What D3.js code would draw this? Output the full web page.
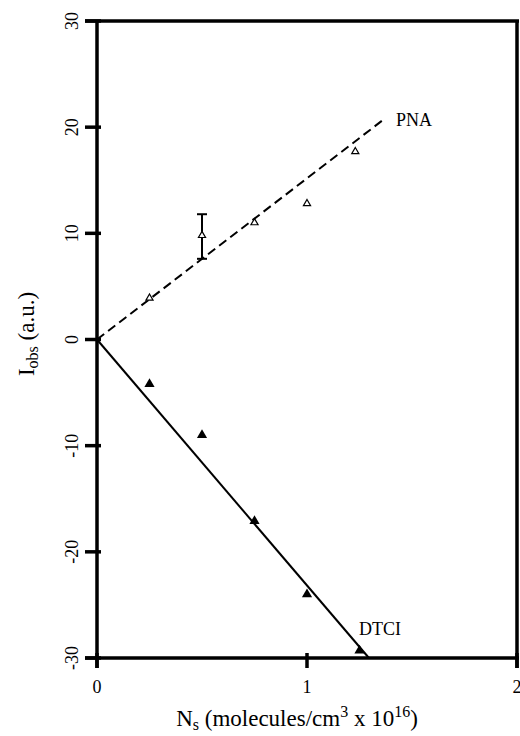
<!DOCTYPE html>
<html>
<head>
<meta charset="utf-8">
<script src="https://cdn.jsdelivr.net/npm/d3@7"></script>
<style>
  body { margin: 0; background: #fff; }
</style>
</head>
<body>
<div id="graphic"></div>
<script>
// data
var xTicks = [0, 1, 2];
var yTicks = [-30, -20, -10, 0, 10, 20, 30];

var pnaX = [0.25, 0.5, 0.75, 1.0, 1.23];
var pnaY = [3.9, 9.8, 11.0, 12.8, 17.7];
var pnaErr = { x: 0.5, lo: 7.6, hi: 11.8 };
var pnaFit = [[0, 0], [1.37, 20.8]];

var dtciX = [0.25, 0.5, 0.75, 1.0, 1.25];
var dtciY = [-4.2, -9.0, -17.1, -24.0, -29.3];
var dtciFit = [[0, 0], [1.295, -30]];

var width = 520, height = 736;
var serif = "'Liberation Serif', 'Times New Roman', Times, 'DejaVu Serif', serif";

var svg = d3.select('#graphic').append('svg')
  .attr('width', width)
  .attr('height', height)
  .attr('font-family', serif);

var x = d3.scaleLinear().domain([0, 2]).range([97, 517]);
var y = d3.scaleLinear().domain([-30, 30]).range([658, 21]);

var line = d3.line()
  .x(d => x(d[0]))
  .y(d => y(d[1]));

// frame: top and right edges
svg.append('line')
  .attr('x1', x(0) - 12).attr('x2', x(2) + 2)
  .attr('y1', y(30)).attr('y2', y(30))
  .attr('stroke', '#000').attr('stroke-width', 3.5);
svg.append('line')
  .attr('x1', x(2)).attr('x2', x(2))
  .attr('y1', y(30)).attr('y2', y(-30) + 10)
  .attr('stroke', '#000').attr('stroke-width', 3.5);

// left axis
var yAxis = svg.append('g')
  .attr('transform', 'translate(' + x(0) + ',0)');
yAxis.append('line')
  .attr('x1', 0).attr('x2', 0)
  .attr('y1', y(30)).attr('y2', y(-30) + 10)
  .attr('stroke', '#000').attr('stroke-width', 3.5);
yAxis.selectAll('line.tick')
  .data(yTicks)
  .join('line')
  .attr('class', 'tick')
  .attr('x1', -12).attr('x2', 4)
  .attr('y1', d => y(d)).attr('y2', d => y(d))
  .attr('stroke', '#000').attr('stroke-width', 3.5);
yAxis.selectAll('text.tickLabel')
  .data(yTicks)
  .join('text')
  .attr('class', 'tickLabel')
  .attr('transform', d => 'translate(-19,' + y(d) + ') rotate(-90)')
  .attr('text-anchor', 'middle')
  .attr('font-family', serif)
  .style('font-size', '18px')
  .text(d => d);

// bottom axis
var xAxis = svg.append('g')
  .attr('transform', 'translate(0,' + y(-30) + ')');
xAxis.append('line')
  .attr('x1', x(0) - 12).attr('x2', x(2) + 2)
  .attr('y1', 0).attr('y2', 0)
  .attr('stroke', '#000').attr('stroke-width', 3.5);
xAxis.selectAll('line.tick')
  .data(xTicks)
  .join('line')
  .attr('class', 'tick')
  .attr('x1', d => x(d)).attr('x2', d => x(d))
  .attr('y1', -5).attr('y2', 10)
  .attr('stroke', '#000').attr('stroke-width', 3.5);
xAxis.selectAll('text.tickLabel')
  .data(xTicks)
  .join('text')
  .attr('class', 'tickLabel')
  .attr('x', d => x(d))
  .attr('y', 35)
  .attr('text-anchor', 'middle')
  .attr('font-family', serif)
  .style('font-size', '18px')
  .text(d => d);

// axis titles
var xTitle = svg.append('text')
  .attr('x', 297).attr('y', 726)
  .attr('text-anchor', 'middle')
  .attr('font-family', serif)
  .style('font-size', '23px');
xTitle.append('tspan').text('N');
xTitle.append('tspan').attr('dy', 4).style('font-size', '16px').text('s');
xTitle.append('tspan').attr('dy', -4).text(' (molecules/cm');
xTitle.append('tspan').attr('dy', -9).style('font-size', '16px').text('3');
xTitle.append('tspan').attr('dy', 9).text(' x 10');
xTitle.append('tspan').attr('dy', -9).style('font-size', '16px').text('16');
xTitle.append('tspan').attr('dy', 9).text(')');

var yTitle = svg.append('text')
  .attr('transform', 'translate(34,' + 334 + ') rotate(-90)')
  .attr('text-anchor', 'middle')
  .attr('font-family', serif)
  .style('font-size', '23px');
yTitle.append('tspan').text('I');
yTitle.append('tspan').attr('dy', 4).style('font-size', '16px').text('obs');
yTitle.append('tspan').attr('dy', -4).text(' (a.u.)');

// fit lines
svg.append('path')
  .attr('d', line(pnaFit))
  .attr('fill', 'none')
  .attr('stroke', '#000')
  .attr('stroke-width', 2)
  .attr('stroke-dasharray', '9,5');
svg.append('path')
  .attr('d', line(dtciFit))
  .attr('fill', 'none')
  .attr('stroke', '#000')
  .attr('stroke-width', 2);

// error bar on PNA point
var eb = svg.append('g');
eb.append('line')
  .attr('x1', x(pnaErr.x)).attr('x2', x(pnaErr.x))
  .attr('y1', y(pnaErr.lo)).attr('y2', y(pnaErr.hi))
  .attr('stroke', '#000').attr('stroke-width', 2);
eb.selectAll('line.cap')
  .data([pnaErr.lo, pnaErr.hi])
  .join('line')
  .attr('class', 'cap')
  .attr('x1', x(pnaErr.x) - 5).attr('x2', x(pnaErr.x) + 5)
  .attr('y1', d => y(d)).attr('y2', d => y(d))
  .attr('stroke', '#000').attr('stroke-width', 2);

// markers
var tri = d3.symbol().type(d3.symbolTriangle);
svg.selectAll('path.pna')
  .data(pnaX.map((d, i) => [d, pnaY[i]]))
  .join('path')
  .attr('class', 'pna')
  .attr('d', tri.size(22))
  .attr('transform', d => 'translate(' + x(d[0]) + ',' + y(d[1]) + ')')
  .attr('fill', '#fff')
  .attr('stroke', '#000')
  .attr('stroke-width', 1.2);
svg.selectAll('path.dtci')
  .data(dtciX.map((d, i) => [d, dtciY[i]]))
  .join('path')
  .attr('class', 'dtci')
  .attr('d', tri.size(45))
  .attr('transform', d => 'translate(' + x(d[0]) + ',' + y(d[1]) + ')')
  .attr('fill', '#000');

// series labels
svg.append('text')
  .attr('x', 396).attr('y', 126)
  .attr('font-family', serif)
  .style('font-size', '18px')
  .text('PNA');
svg.append('text')
  .attr('x', 359).attr('y', 635)
  .attr('font-family', serif)
  .style('font-size', '18px')
  .text('DTCI');
</script>
</body>
</html>
